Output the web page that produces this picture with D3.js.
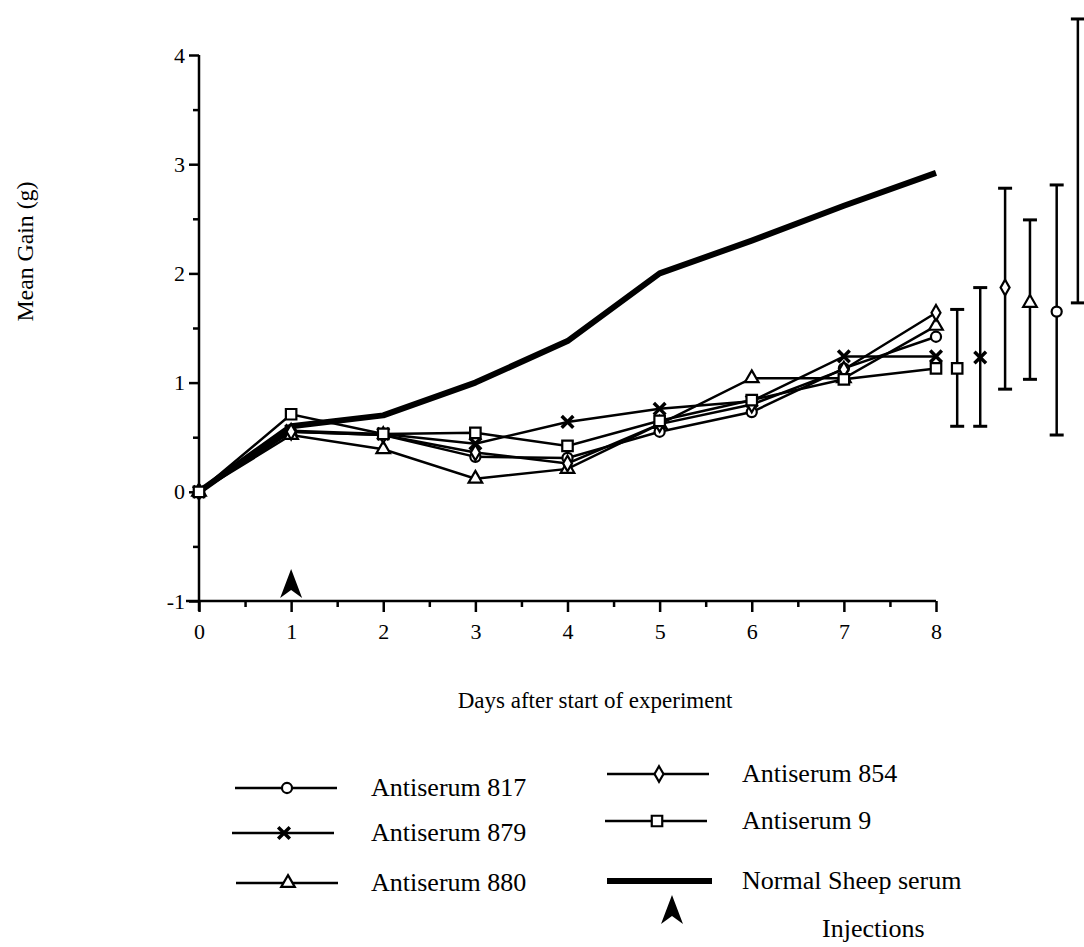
<!DOCTYPE html>
<head>
<meta charset="utf-8">
<title>Mean Gain after antiserum injections</title>
<script src="https://d3js.org/d3.v7.min.js"></script>
<style>
  body { margin: 0; background: #fff; }
  svg { font-family: "Liberation Serif", "DejaVu Serif", serif; }
  .axis path, .axis line { stroke: #000; stroke-width: 2.5; }
  .axis text { font-size: 22px; fill: #000; font-family: "Liberation Serif", serif; }
</style>
</head>
<body>
<svg width="1084" height="947"></svg>
<script>
// data
const days = [0, 1, 2, 3, 4, 5, 6, 7, 8];
const s817 = [0, 0.55, 0.52, 0.32, 0.31, 0.55, 0.73, 1.13, 1.42];
const s879 = [0, 0.56, 0.53, 0.44, 0.64, 0.76, 0.83, 1.24, 1.24];
const s880 = [0, 0.52, 0.39, 0.12, 0.21, 0.62, 1.04, 1.04, 1.52];
const s854 = [0, 0.55, 0.52, 0.36, 0.26, 0.62, 0.80, 1.12, 1.64];
const s9   = [0, 0.71, 0.53, 0.54, 0.42, 0.65, 0.84, 1.03, 1.13];
const nss  = [0, 0.60, 0.70, 1.00, 1.38, 2.00, 2.30, 2.62, 2.92];

// error bars drawn to the right of day 8 (x in day units)
const errSeries = ["9", "879", "854", "880", "817", "nss"];
const errX      = [8.23, 8.48, 8.75, 9.02, 9.31, 9.54];
const errMean   = [1.13, 1.23, 1.87, 1.73, 1.65, null];
const errLow    = [0.60, 0.60, 0.94, 1.03, 0.52, 1.73];
const errHigh   = [1.67, 1.87, 2.78, 2.49, 2.81, 4.33];

const injectionDays = [1];
const xTicks = [0, 1, 2, 3, 4, 5, 6, 7, 8];
const yTicks = [-1, 0, 1, 2, 3, 4];

const series = [
  { key: "817", name: "Antiserum 817", values: s817, marker: "circle" },
  { key: "879", name: "Antiserum 879", values: s879, marker: "cross" },
  { key: "880", name: "Antiserum 880", values: s880, marker: "triangle" },
  { key: "854", name: "Antiserum 854", values: s854, marker: "diamond" },
  { key: "9",   name: "Antiserum 9",   values: s9,   marker: "square" }
];

const svg = d3.select("svg");
const x = d3.scaleLinear().domain([0, 8]).range([199, 936]);
const y = d3.scaleLinear().domain([-1, 4]).range([601, 55]);

const symbols = {
  circle: d3.symbol().type(d3.symbolCircle).size(80),
  square: d3.symbol().type(d3.symbolSquare).size(110),
  triangle: d3.symbol().type(d3.symbolTriangle).size(80),
  diamond: d3.symbol().type(d3.symbolDiamond).size(70),
  cross: d3.symbol().type(d3.symbolTimes).size(90)
};

function drawMarker(g, type, cx, cy) {
  const p = g.append("path")
    .attr("d", symbols[type]())
    .attr("transform", "translate(" + cx + "," + cy + ")")
    .attr("stroke", "#000");
  if (type === "cross") p.attr("fill", "none").attr("stroke-width", 3.5);
  else p.attr("fill", "#fff").attr("stroke-width", 2.2);
}

// axes
svg.append("g").attr("class", "axis")
  .attr("transform", "translate(0," + y(-1) + ")")
  .call(d3.axisBottom(x).tickValues(xTicks).tickSize(11).tickSizeOuter(0).tickPadding(11))
  .call(g => g.select(".domain").remove());
svg.append("g").attr("class", "axis")
  .attr("transform", "translate(0," + y(-1) + ")")
  .call(d3.axisBottom(x).tickValues(d3.range(0.5, 8, 1)).tickSize(6).tickFormat(""))
  .call(g => g.select(".domain").remove());
svg.append("g").attr("class", "axis")
  .attr("transform", "translate(" + x(0) + ",0)")
  .call(d3.axisLeft(y).tickValues(yTicks).tickSize(10).tickPadding(4).tickFormat(d => String(d)))
  .call(g => g.select(".domain").remove());
svg.append("g").attr("class", "axis")
  .attr("transform", "translate(" + x(0) + ",0)")
  .call(d3.axisLeft(y).tickValues(d3.range(-0.5, 4, 1)).tickSize(6).tickFormat(""))
  .call(g => g.select(".domain").remove());

svg.append("line")
  .attr("x1", x(0)).attr("x2", x(0))
  .attr("y1", y(4)).attr("y2", y(-1) + 10)
  .attr("stroke", "#000").attr("stroke-width", 2.5);
svg.append("line")
  .attr("x1", x(0) - 13).attr("x2", x(8))
  .attr("y1", y(-1)).attr("y2", y(-1))
  .attr("stroke", "#000").attr("stroke-width", 2.5);

// axis titles
svg.append("text")
  .attr("transform", "translate(33," + y(2.2) + ") rotate(-90)")
  .attr("text-anchor", "middle")
  .attr("font-size", 23)
  .attr("textLength", 140)
  .attr("lengthAdjust", "spacingAndGlyphs")
  .text("Mean Gain (g)");
svg.append("text")
  .attr("x", 595).attr("y", 708)
  .attr("text-anchor", "middle")
  .attr("font-size", 23)
  .text("Days after start of experiment");

// lines
const line = d3.line().x((d, i) => x(days[i])).y(d => y(d));

svg.append("path")
  .datum(nss)
  .attr("d", line)
  .attr("fill", "none")
  .attr("stroke", "#000")
  .attr("stroke-width", 6)
  .attr("stroke-linejoin", "round");

series.forEach(s => {
  svg.append("path")
    .datum(s.values)
    .attr("d", line)
    .attr("fill", "none")
    .attr("stroke", "#000")
    .attr("stroke-width", 2.5);
});

const markerLayer = svg.append("g");
series.forEach(s => {
  s.values.forEach((v, i) => drawMarker(markerLayer, s.marker, x(days[i]), y(v)));
});

// error bars
errSeries.forEach((k, i) => {
  const g = svg.append("g");
  const cx = x(errX[i]);
  g.append("line").attr("x1", cx).attr("x2", cx)
    .attr("y1", y(errLow[i])).attr("y2", y(errHigh[i]))
    .attr("stroke", "#000").attr("stroke-width", 2.5);
  [errLow[i], errHigh[i]].forEach(v => {
    g.append("line").attr("x1", cx - 7).attr("x2", cx + 7)
      .attr("y1", y(v)).attr("y2", y(v))
      .attr("stroke", "#000").attr("stroke-width", 3);
  });
  const s = series.find(d => d.key === k);
  if (s && errMean[i] != null) drawMarker(g, s.marker, cx, y(errMean[i]));
});

// injection arrow
const arrow = "M0,-16 L11,13 L0,5 L-11,13 Z";
injectionDays.forEach(d => {
  svg.append("path").attr("d", arrow)
    .attr("transform", "translate(" + x(d) + "," + (y(-1) - 16) + ")")
    .attr("fill", "#000");
});

// legend
const legendRows = [
  { s: series[0], lx: 235, tx: 371, ty: 788 },
  { s: series[1], lx: 232, tx: 371, ty: 833 },
  { s: series[2], lx: 236, tx: 371, ty: 883 },
  { s: series[3], lx: 607, tx: 742, ty: 774 },
  { s: series[4], lx: 605, tx: 742, ty: 821 }
];
const leg = svg.append("g").attr("font-size", 26);

legendRows.forEach(d => {
  leg.append("line").attr("x1", d.lx).attr("x2", d.lx + 102)
    .attr("y1", d.ty).attr("y2", d.ty)
    .attr("stroke", "#000").attr("stroke-width", 2.5);
  drawMarker(leg, d.s.marker, d.lx + 52, d.ty);
  leg.append("text").attr("x", d.tx).attr("y", d.ty + 8).text(d.s.name);
});
leg.append("line").attr("x1", 607).attr("x2", 712)
  .attr("y1", 881).attr("y2", 881)
  .attr("stroke", "#000").attr("stroke-width", 6);
leg.append("text").attr("x", 742).attr("y", 889).text("Normal Sheep serum");
leg.append("path").attr("d", arrow)
  .attr("transform", "translate(672,911)")
  .attr("fill", "#000");
leg.append("text").attr("x", 822).attr("y", 937).text("Injections");
</script>
</body>
